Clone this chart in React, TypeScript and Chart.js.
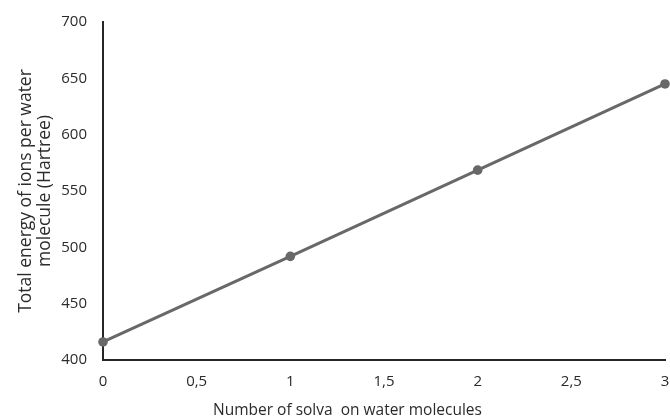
import React, { useEffect, useRef } from "react";
import { Chart, registerables } from "chart.js";

Chart.register(...registerables);

const xValues = [0, 1, 2, 3];
const yValues = [416, 492, 568.5, 645];
const yTitle = ["Total energy of ions per water", "molecule (Hartree)"];
const xTitle = "Number of solva  on water molecules";

const FONT = "'Open Sans', 'DejaVu Sans', sans-serif";
const TEXT = "#2b2b2b";

const xTitlePlugin = {
  id: "xTitlePlugin",
  afterDraw(chart: any) {
    const { ctx, chartArea } = chart;
    ctx.save();
    ctx.font = `15.5px ${FONT}`;
    ctx.fillStyle = TEXT;
    ctx.textAlign = "center";
    ctx.textBaseline = "middle";
    const cx = chartArea.left + (chartArea.right - chartArea.left) * 0.435;
    ctx.fillText(xTitle, cx, 411);
    ctx.restore();
  },
};

export default function App() {
  const ref = useRef<HTMLCanvasElement>(null);
  useEffect(() => {
    if (!ref.current) return;
    const chart = new Chart(ref.current, {
      type: "line",
      data: {
        datasets: [
          {
            data: xValues.map((x, i) => ({ x, y: yValues[i] })),
            borderColor: "#686868",
            backgroundColor: "#686868",
            borderWidth: 3,
            pointRadius: 4.8,
            pointBackgroundColor: "#686868",
            pointBorderWidth: 0,
            tension: 0,
            clip: false as any,
          },
        ],
      },
      options: {
        animation: false,
        responsive: false,
        maintainAspectRatio: false,
        layout: { padding: { top: 22, right: 5, left: 0, bottom: 0 } },
        plugins: {
          legend: { display: false },
          tooltip: { enabled: false },
        },
        scales: {
          x: {
            type: "linear",
            min: 0,
            max: 3,
            grid: { display: false, drawTicks: false },
            border: { display: true, color: "#262626", width: 2 },
            ticks: {
              stepSize: 0.5,
              padding: 13,
              maxRotation: 0,
              color: TEXT,
              font: { family: FONT, size: 15 },
              callback: (v: any) => String(v).replace(".", ","),
            },
            afterFit: (s: any) => {
              s.height = 58;
              s.paddingRight = 0;
              s.paddingLeft = 0;
            },
          },
          y: {
            min: 400,
            max: 700,
            grid: { display: false, drawTicks: false },
            border: { display: true, color: "#262626", width: 2 },
            ticks: {
              stepSize: 50,
              padding: 16,
              color: TEXT,
              font: { family: FONT, size: 15 },
            },
            title: {
              display: true,
              text: yTitle,
              color: TEXT,
              font: { family: FONT, size: 17.5, lineHeight: 1.12 },
              padding: { top: 16, bottom: 0 },
            },
            afterFit: (s: any) => {
              s.width = 103;
              s.paddingTop = 0;
              s.paddingBottom = 0;
            },
          },
        },
      },
      plugins: [xTitlePlugin],
    });
    return () => chart.destroy();
  }, []);
  return (
    <div style={{ position: "fixed", left: 0, top: 0, width: 670, height: 418, background: "#fff" }}>
      <canvas ref={ref} width={670} height={418} style={{ width: 670, height: 418 }} />
    </div>
  );
}
